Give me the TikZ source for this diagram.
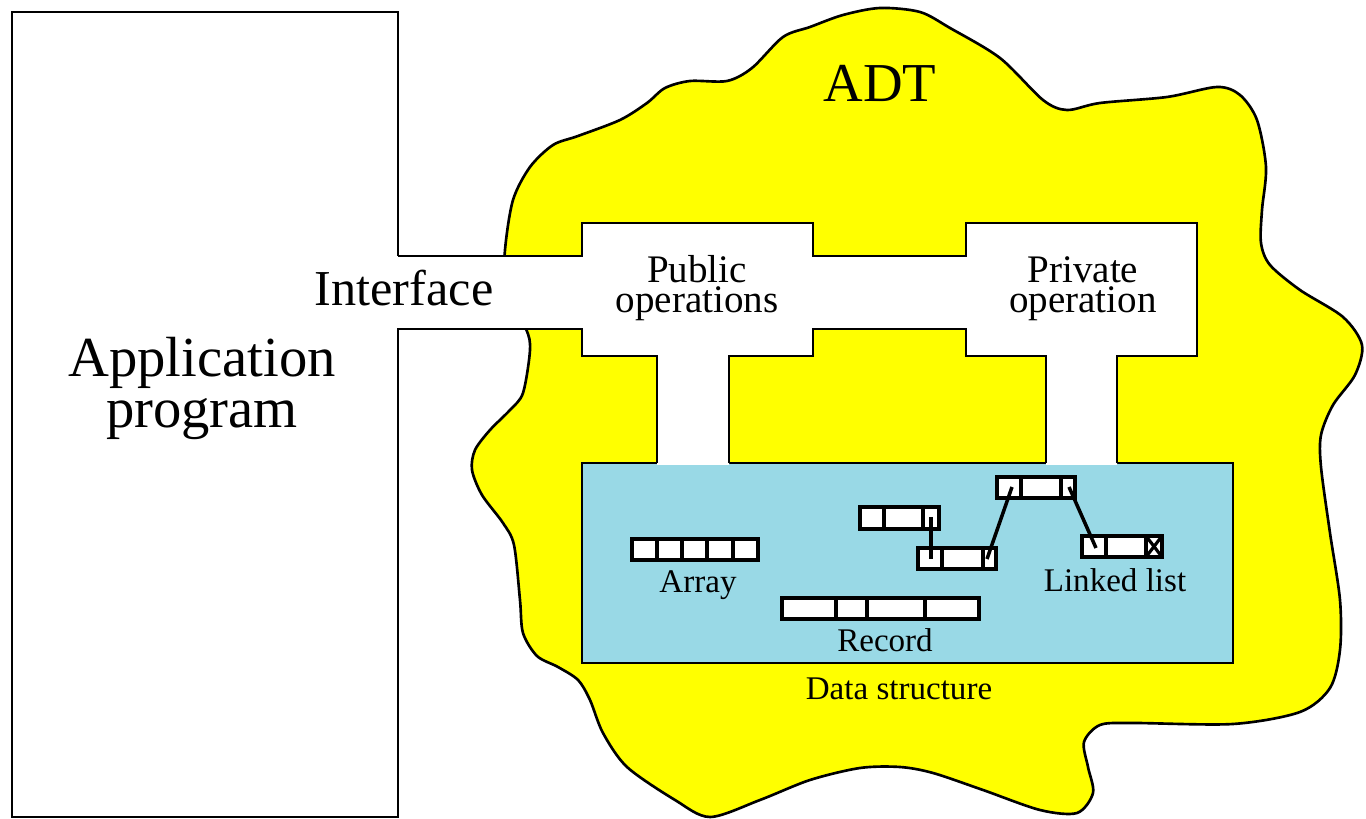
\documentclass[tikz,border=0pt]{standalone}
\usepackage{fontspec}
\setmainfont{Liberation Serif}
\definecolor{adtyellow}{RGB}{255,255,0}
\definecolor{dsblue}{RGB}{153,217,230}
\begin{document}
\begin{tikzpicture}[x=0.01cm,y=-0.01cm,
  outl/.style={line width=0.75pt, line join=miter},
  cellbox/.style={draw, fill=white, line width=0.9pt},
  cellline/.style={line width=0.9pt},
  ptr/.style={line width=1pt},
  lbl/.style={inner sep=0pt, anchor=base},
  appfont/.style={lbl, font=\fontsize{16.1}{18}\selectfont},
  iffont/.style={lbl, font=\fontsize{14.3}{16}\selectfont},
  adtfont/.style={lbl, font=\fontsize{15.6}{18}\selectfont},
  opfont/.style={lbl, font=\fontsize{11.1}{13}\selectfont},
  smallfont/.style={lbl, font=\fontsize{9.4}{11}\selectfont}]
\useasboundingbox (0,0) rectangle (1366,819);
\fill[white] (0,0) rectangle (1366,819);

% ADT blob
\draw[outl, fill=adtyellow] plot[smooth cycle, tension=0.5] coordinates {
 (505,292) (505,250) (513,200) (530,167) (553,145) (578,136)
 (620,120) (647,103) (665,88) (690,81) (727,81) (752,68) (783,37)
 (810,27) (843,15) (880,8) (920,12) (950,28) (1000,58) (1043,100)
 (1067,110) (1100,103) (1167,97) (1217,87) (1240,95) (1257,120)
 (1266,167) (1262,210) (1261,243) (1270,265) (1300,290) (1343,317)
 (1362,345) (1355,375) (1333,405) (1321,435) (1321,467) (1330,533)
 (1340,600) (1340,650) (1330,688) (1300,712) (1233,724) (1133,723)
 (1100,725) (1084,742) (1088,767) (1093,793) (1077,813) (1040,810)
 (983,790) (933,773) (900,767) (860,768) (810,780) (760,800)
 (710,817) (675,800) (627,767) (603,733) (590,700) (578,680)
 (558,667) (537,656) (523,633) (520,600) (514,545) (503,523)
 (482,495) (472,470) (475,450) (490,430) (510,410) (523,393)
 (530,350) (526,329)};

% data structure
\draw[outl, fill=dsblue] (582,463) rectangle (1233,663);

% white region: interface, operations, stems, application box
\fill[white] (398,256) -- (582,256) -- (582,223) -- (813,223) -- (813,256)
 -- (966,256) -- (966,223) -- (1197,223) -- (1197,356) -- (1117,356)
 -- (1117,464.8) -- (1046,464.8) -- (1046,356) -- (966,356) -- (966,329)
 -- (813,329) -- (813,356) -- (729,356) -- (729,464.8) -- (657,464.8)
 -- (657,356) -- (582,356) -- (582,329) -- (398,329) -- (398,817)
 -- (12,817) -- (12,12) -- (398,12) -- cycle;
\draw[outl] (398,256) -- (582,256) -- (582,223) -- (813,223) -- (813,256)
 -- (966,256) -- (966,223) -- (1197,223) -- (1197,356) -- (1117,356)
 -- (1117,463);
\draw[outl] (1046,463) -- (1046,356) -- (966,356) -- (966,329)
 -- (813,329) -- (813,356) -- (729,356) -- (729,463);
\draw[outl] (657,463) -- (657,356) -- (582,356) -- (582,329) -- (398,329)
 -- (398,817) -- (12,817) -- (12,12) -- (398,12) -- (398,256);

% array
\draw[cellbox] (632,539) rectangle (758,560);
\foreach \xx in {657,682,707,733} \draw[cellline] (\xx,539) -- (\xx,560);
% record
\draw[cellbox] (782,598) rectangle (979,619);
\foreach \xx in {836,867,925} \draw[cellline] (\xx,598) -- (\xx,619);
% linked list nodes
\draw[cellbox] (860,507) rectangle (939,529);
\foreach \xx in {884,923} \draw[cellline] (\xx,507) -- (\xx,529);
\draw[cellbox] (918,548) rectangle (996,569);
\foreach \xx in {942,983} \draw[cellline] (\xx,548) -- (\xx,569);
\draw[cellbox] (997,477) rectangle (1075,498);
\foreach \xx in {1021,1061} \draw[cellline] (\xx,477) -- (\xx,498);
\draw[cellbox] (1082,536) rectangle (1162,557);
\foreach \xx in {1106,1146} \draw[cellline] (\xx,536) -- (\xx,557);
\draw[cellline] (1146,536) -- (1162,557) (1146,557) -- (1162,536);

% pointers
\coordinate (p1a) at (931,517);
\coordinate (p1b) at (931,559);
\coordinate (p2a) at (987,559);
\coordinate (p2b) at (1012,487);
\coordinate (p3a) at (1069,487);
\coordinate (p3b) at (1096,548);
\draw[ptr] (p1a) -- (p1b);
\draw[ptr] (p2a) -- (p2b);
\draw[ptr] (p3a) -- (p3b);

% labels
\node[appfont] (app1) at (202,377) {Application};
\node[appfont] (app2) at (202,428) {program};
\node[iffont] (iface) at (404,306) {Interface};
\node[adtfont] (adt) at (880,102) {ADT};
\node[opfont] (pub1) at (697,283) {Public};
\node[opfont] (pub2) at (697,313) {operations};
\node[opfont] (priv1) at (1083,283) {Private};
\node[opfont] (priv2) at (1083,313) {operation};
\node[smallfont] (arr) at (698,593) {Array};
\node[smallfont] (rec) at (885,652) {Record};
\node[smallfont] (ds) at (899,700) {Data structure};
\node[smallfont] (ll) at (1115,592) {Linked list};
\end{tikzpicture}
\end{document}
